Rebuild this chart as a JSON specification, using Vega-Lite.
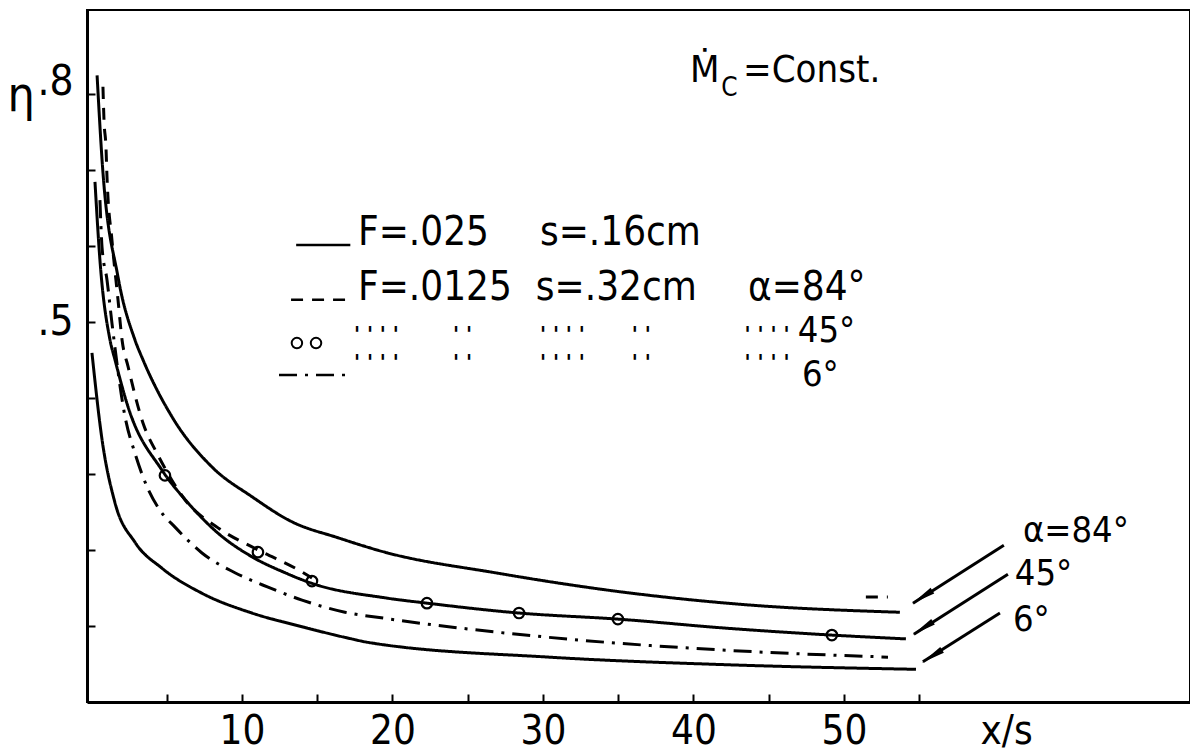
{
  "$schema": "https://vega.github.io/schema/vega-lite/v6.json",
  "width": 1103,
  "height": 692,
  "autosize": {"type": "none"},
  "padding": {"left": 87, "top": 10, "right": 0, "bottom": 49},
  "background": "white",
  "config": {
    "view": {"stroke": "black", "strokeWidth": 2},
    "font": "DejaVu Sans Condensed, DejaVu Sans, sans-serif",
    "axis": {
      "grid": false,
      "domainColor": "black",
      "domainWidth": 3,
      "tickColor": "black",
      "tickWidth": 2,
      "labelColor": "black",
      "titleColor": "black",
      "titleFontWeight": "normal",
      "labelFont": "DejaVu Sans Condensed, DejaVu Sans, sans-serif",
      "titleFont": "DejaVu Sans Condensed, DejaVu Sans, sans-serif"
    }
  },
  "datasets": {
    "curves": [
      {"series": "F=.025, α=84°", "part": "a", "x": 0.37, "eta": 0.824},
      {"series": "F=.025, α=84°", "part": "a", "x": 0.70, "eta": 0.713},
      {"series": "F=.025, α=84°", "part": "a", "x": 1.76, "eta": 0.559},
      {"series": "F=.025, α=84°", "part": "a", "x": 2.89, "eta": 0.476},
      {"series": "F=.025, α=84°", "part": "a", "x": 3.42, "eta": 0.450},
      {"series": "F=.025, α=84°", "part": "a", "x": 5.35, "eta": 0.375},
      {"series": "F=.025, α=84°", "part": "a", "x": 8.01, "eta": 0.309},
      {"series": "F=.025, α=84°", "part": "a", "x": 10.66, "eta": 0.270},
      {"series": "F=.025, α=84°", "part": "a", "x": 13.32, "eta": 0.237},
      {"series": "F=.025, α=84°", "part": "a", "x": 16.38, "eta": 0.216},
      {"series": "F=.025, α=84°", "part": "a", "x": 19.50, "eta": 0.197},
      {"series": "F=.025, α=84°", "part": "a", "x": 26.81, "eta": 0.170},
      {"series": "F=.025, α=84°", "part": "a", "x": 35.12, "eta": 0.145},
      {"series": "F=.025, α=84°", "part": "a", "x": 43.42, "eta": 0.128},
      {"series": "F=.025, α=84°", "part": "a", "x": 53.72, "eta": 0.118},

      {"series": "F=.025, α=45°", "part": "a", "x": 0.23, "eta": 0.684},
      {"series": "F=.025, α=45°", "part": "a", "x": 0.56, "eta": 0.581},
      {"series": "F=.025, α=45°", "part": "a", "x": 1.23, "eta": 0.476},
      {"series": "F=.025, α=45°", "part": "a", "x": 1.56, "eta": 0.450},
      {"series": "F=.025, α=45°", "part": "a", "x": 2.43, "eta": 0.388},
      {"series": "F=.025, α=45°", "part": "a", "x": 4.68, "eta": 0.305},
      {"series": "F=.025, α=45°", "part": "a", "x": 6.41, "eta": 0.262},
      {"series": "F=.025, α=45°", "part": "a", "x": 8.41, "eta": 0.222},
      {"series": "F=.025, α=45°", "part": "a", "x": 10.66, "eta": 0.191},
      {"series": "F=.025, α=45°", "part": "a", "x": 12.86, "eta": 0.170},
      {"series": "F=.025, α=45°", "part": "a", "x": 14.65, "eta": 0.156},
      {"series": "F=.025, α=45°", "part": "a", "x": 19.50, "eta": 0.137},
      {"series": "F=.025, α=45°", "part": "a", "x": 22.29, "eta": 0.130},
      {"series": "F=.025, α=45°", "part": "a", "x": 28.41, "eta": 0.117},
      {"series": "F=.025, α=45°", "part": "a", "x": 34.98, "eta": 0.109},
      {"series": "F=.025, α=45°", "part": "a", "x": 42.23, "eta": 0.097},
      {"series": "F=.025, α=45°", "part": "a", "x": 49.20, "eta": 0.088},
      {"series": "F=.025, α=45°", "part": "a", "x": 54.12, "eta": 0.083},

      {"series": "F=.025, α=6°", "part": "a", "x": 0.03, "eta": 0.459},
      {"series": "F=.025, α=6°", "part": "a", "x": 0.70, "eta": 0.345},
      {"series": "F=.025, α=6°", "part": "a", "x": 1.56, "eta": 0.262},
      {"series": "F=.025, α=6°", "part": "a", "x": 2.89, "eta": 0.210},
      {"series": "F=.025, α=6°", "part": "a", "x": 4.68, "eta": 0.176},
      {"series": "F=.025, α=6°", "part": "a", "x": 7.34, "eta": 0.143},
      {"series": "F=.025, α=6°", "part": "a", "x": 10.66, "eta": 0.117},
      {"series": "F=.025, α=6°", "part": "a", "x": 13.99, "eta": 0.099},
      {"series": "F=.025, α=6°", "part": "a", "x": 16.84, "eta": 0.085},
      {"series": "F=.025, α=6°", "part": "a", "x": 18.50, "eta": 0.078},
      {"series": "F=.025, α=6°", "part": "a", "x": 30.40, "eta": 0.059},
      {"series": "F=.025, α=6°", "part": "a", "x": 42.23, "eta": 0.049},
      {"series": "F=.025, α=6°", "part": "a", "x": 54.79, "eta": 0.043},

      {"series": "F=.0125, α=84°", "part": "a", "x": 0.76, "eta": 0.809},
      {"series": "F=.0125, α=84°", "part": "a", "x": 0.83, "eta": 0.765},
      {"series": "F=.0125, α=84°", "part": "a", "x": 0.96, "eta": 0.730},
      {"series": "F=.0125, α=84°", "part": "a", "x": 1.03, "eta": 0.690},
      {"series": "F=.0125, α=84°", "part": "a", "x": 1.36, "eta": 0.607},
      {"series": "F=.0125, α=84°", "part": "a", "x": 1.76, "eta": 0.529},
      {"series": "F=.0125, α=84°", "part": "a", "x": 2.03, "eta": 0.476},
      {"series": "F=.0125, α=84°", "part": "a", "x": 2.43, "eta": 0.441},
      {"series": "F=.0125, α=84°", "part": "a", "x": 3.42, "eta": 0.367},
      {"series": "F=.0125, α=84°", "part": "a", "x": 4.35, "eta": 0.327},
      {"series": "F=.0125, α=84°", "part": "a", "x": 4.95, "eta": 0.305},
      {"series": "F=.0125, α=84°", "part": "a", "x": 6.21, "eta": 0.266},
      {"series": "F=.0125, α=84°", "part": "a", "x": 8.41, "eta": 0.229},
      {"series": "F=.0125, α=84°", "part": "a", "x": 11.06, "eta": 0.200},
      {"series": "F=.0125, α=84°", "part": "a", "x": 13.72, "eta": 0.174},
      {"series": "F=.0125, α=84°", "part": "a", "x": 14.65, "eta": 0.163},
      {"series": "F=.0125, α=84°", "part": "b", "x": 51.46, "eta": 0.138},
      {"series": "F=.0125, α=84°", "part": "b", "x": 52.92, "eta": 0.138},

      {"series": "F=.0125, α=6°", "part": "a", "x": 0.56, "eta": 0.660},
      {"series": "F=.0125, α=6°", "part": "a", "x": 0.70, "eta": 0.598},
      {"series": "F=.0125, α=6°", "part": "a", "x": 1.03, "eta": 0.555},
      {"series": "F=.0125, α=6°", "part": "a", "x": 1.36, "eta": 0.498},
      {"series": "F=.0125, α=6°", "part": "a", "x": 2.23, "eta": 0.375},
      {"series": "F=.0125, α=6°", "part": "a", "x": 2.89, "eta": 0.327},
      {"series": "F=.0125, α=6°", "part": "a", "x": 3.69, "eta": 0.283},
      {"series": "F=.0125, α=6°", "part": "a", "x": 4.55, "eta": 0.252},
      {"series": "F=.0125, α=6°", "part": "a", "x": 5.55, "eta": 0.230},
      {"series": "F=.0125, α=6°", "part": "a", "x": 7.34, "eta": 0.196},
      {"series": "F=.0125, α=6°", "part": "a", "x": 9.53, "eta": 0.170},
      {"series": "F=.0125, α=6°", "part": "a", "x": 11.73, "eta": 0.151},
      {"series": "F=.0125, α=6°", "part": "a", "x": 13.99, "eta": 0.134},
      {"series": "F=.0125, α=6°", "part": "a", "x": 16.84, "eta": 0.118},
      {"series": "F=.0125, α=6°", "part": "a", "x": 19.50, "eta": 0.110},
      {"series": "F=.0125, α=6°", "part": "a", "x": 30.40, "eta": 0.085},
      {"series": "F=.0125, α=6°", "part": "a", "x": 42.23, "eta": 0.068},
      {"series": "F=.0125, α=6°", "part": "a", "x": 52.93, "eta": 0.059}
    ],
    "circles": [
      {"series": "F=.0125, α=45°", "x": 4.88, "eta": 0.298},
      {"series": "F=.0125, α=45°", "x": 11.06, "eta": 0.197},
      {"series": "F=.0125, α=45°", "x": 14.65, "eta": 0.159},
      {"series": "F=.0125, α=45°", "x": 22.29, "eta": 0.130},
      {"series": "F=.0125, α=45°", "x": 28.41, "eta": 0.117},
      {"series": "F=.0125, α=45°", "x": 34.98, "eta": 0.109},
      {"series": "F=.0125, α=45°", "x": 49.20, "eta": 0.088}
    ],
    "legendLines": [
      {"series": "F=.025, α=84°", "x": 13.60, "eta": 0.601},
      {"series": "F=.025, α=84°", "x": 17.20, "eta": 0.601},
      {"series": "F=.0125, α=84°", "x": 13.26, "eta": 0.529},
      {"series": "F=.0125, α=84°", "x": 16.85, "eta": 0.529},
      {"series": "F=.0125, α=6°", "x": 12.46, "eta": 0.430},
      {"series": "F=.0125, α=6°", "x": 16.85, "eta": 0.430}
    ],
    "legendCircles": [
      {"x": 13.65, "eta": 0.472},
      {"x": 14.92, "eta": 0.472}
    ],
    "bigText": [
      {"t": "F=.025", "x": 17.71, "eta": 0.601},
      {"t": "s=.16cm", "x": 29.80, "eta": 0.601},
      {"t": "F=.0125", "x": 17.71, "eta": 0.529},
      {"t": "s=.32cm", "x": 29.53, "eta": 0.529},
      {"t": "α=84°", "x": 43.62, "eta": 0.529}
    ],
    "sideText": [
      {"t": "45°", "x": 46.94, "eta": 0.474},
      {"t": "6°", "x": 47.21, "eta": 0.416},
      {"t": "α=84°", "x": 61.90, "eta": 0.211},
      {"t": "45°", "x": 61.36, "eta": 0.154},
      {"t": "6°", "x": 61.23, "eta": 0.094}
    ],
    "titleText": [
      {"t": "Ṁ", "x": 39.77, "eta": 0.815},
      {"t": "=Const.", "x": 43.30, "eta": 0.815}
    ],
    "subText": [
      {"t": "C", "x": 41.85, "eta": 0.797}
    ],
    "dittos": [
      {"t": "' '  ' '", "x": 17.44, "eta": 0.474},
      {"t": "' '", "x": 24.02, "eta": 0.474},
      {"t": "' ' ' '", "x": 29.80, "eta": 0.474},
      {"t": "' '", "x": 35.90, "eta": 0.474},
      {"t": "' ' ' '", "x": 43.40, "eta": 0.474},
      {"t": "' '  ' '", "x": 17.44, "eta": 0.436},
      {"t": "' '", "x": 24.02, "eta": 0.436},
      {"t": "' ' ' '", "x": 29.80, "eta": 0.436},
      {"t": "' '", "x": 35.90, "eta": 0.436},
      {"t": "' ' ' '", "x": 43.40, "eta": 0.436}
    ],
    "arrows": [
      {"x": 60.63, "eta": 0.206, "x2": 54.59, "eta2": 0.130},
      {"x": 60.90, "eta": 0.168, "x2": 54.65, "eta2": 0.089},
      {"x": 60.37, "eta": 0.117, "x2": 55.25, "eta2": 0.053}
    ],
    "arrowHeads": [
      {"x": 55.21, "eta": 0.138},
      {"x": 55.25, "eta": 0.097},
      {"x": 55.85, "eta": 0.060}
    ]
  },
  "layer": [
    {
      "data": {"name": "curves"},
      "mark": {"type": "line", "interpolate": "monotone", "color": "black", "strokeWidth": 3},
      "encoding": {
        "x": {
          "field": "x", "type": "quantitative",
          "scale": {"domain": [-0.3, 73], "nice": false, "zero": false},
          "axis": {
            "values": [5, 10, 15, 20, 25, 30, 35, 40, 45, 50, 55],
            "labelExpr": "datum.value % 10 == 0 && datum.value <= 50 ? datum.label : ''",
            "tickSize": -8,
            "labelPadding": 49,
            "labelBaseline": "alphabetic",
            "labelFontSize": 40,
            "labelFlush": false,
            "labelOverlap": false,
            "title": "x/s",
            "titleFontSize": 40,
            "titleAngle": 0,
            "titleX": 893,
            "titleY": 41,
            "titleAlign": "left",
            "titleBaseline": "alphabetic"
          }
        },
        "y": {
          "field": "eta", "type": "quantitative",
          "scale": {"domain": [0, 0.91], "nice": false, "zero": false},
          "axis": {
            "values": [0.1, 0.2, 0.3, 0.4, 0.5, 0.6, 0.7, 0.8],
            "labelExpr": "datum.value == 0.8 ? '.8' : (datum.value == 0.5 ? '.5' : '')",
            "tickSize": -8,
            "labelPadding": 22,
            "labelFontSize": 42,
            "labelBaseline": "middle",
            "labelOffset": {"condition": {"test": "datum.value > 0.7", "value": -12}, "value": 0},
            "title": "η",
            "titleFontSize": 48,
            "titleAngle": 0,
            "titleX": -80,
            "titleY": 100,
            "titleAlign": "left",
            "titleBaseline": "alphabetic"
          }
        },
        "detail": {"field": "part"},
        "strokeDash": {
          "field": "series", "type": "nominal",
          "scale": {
            "domain": ["F=.025, α=84°", "F=.025, α=45°", "F=.025, α=6°", "F=.0125, α=84°", "F=.0125, α=6°"],
            "range": [[1, 0], [1, 0], [1, 0], [12, 9], [18, 8, 3, 8]]
          },
          "legend": null
        }
      }
    },
    {
      "data": {"name": "legendLines"},
      "mark": {"type": "line", "color": "black", "strokeWidth": 2.5},
      "encoding": {
        "x": {"field": "x", "type": "quantitative"},
        "y": {"field": "eta", "type": "quantitative"},
        "strokeDash": {"field": "series", "type": "nominal", "legend": null}
      }
    },
    {
      "data": {"name": "circles"},
      "mark": {"type": "point", "filled": false, "color": "black", "strokeWidth": 2.2, "size": 110, "opacity": 1},
      "encoding": {
        "x": {"field": "x", "type": "quantitative"},
        "y": {"field": "eta", "type": "quantitative"}
      }
    },
    {
      "data": {"name": "legendCircles"},
      "mark": {"type": "point", "filled": false, "color": "black", "strokeWidth": 2, "size": 110, "opacity": 1},
      "encoding": {
        "x": {"field": "x", "type": "quantitative"},
        "y": {"field": "eta", "type": "quantitative"}
      }
    },
    {
      "data": {"name": "bigText"},
      "mark": {"type": "text", "align": "left", "baseline": "alphabetic", "fontSize": 40, "color": "black"},
      "encoding": {
        "x": {"field": "x", "type": "quantitative"},
        "y": {"field": "eta", "type": "quantitative"},
        "text": {"field": "t"}
      }
    },
    {
      "data": {"name": "sideText"},
      "mark": {"type": "text", "align": "left", "baseline": "alphabetic", "fontSize": 36, "color": "black"},
      "encoding": {
        "x": {"field": "x", "type": "quantitative"},
        "y": {"field": "eta", "type": "quantitative"},
        "text": {"field": "t"}
      }
    },
    {
      "data": {"name": "titleText"},
      "mark": {"type": "text", "align": "left", "baseline": "alphabetic", "fontSize": 38, "color": "black"},
      "encoding": {
        "x": {"field": "x", "type": "quantitative"},
        "y": {"field": "eta", "type": "quantitative"},
        "text": {"field": "t"}
      }
    },
    {
      "data": {"name": "subText"},
      "mark": {"type": "text", "align": "left", "baseline": "alphabetic", "fontSize": 26, "color": "black"},
      "encoding": {
        "x": {"field": "x", "type": "quantitative"},
        "y": {"field": "eta", "type": "quantitative"},
        "text": {"field": "t"}
      }
    },
    {
      "data": {"name": "dittos"},
      "mark": {"type": "text", "align": "left", "baseline": "alphabetic", "fontSize": 22, "fontWeight": "bold", "color": "black"},
      "encoding": {
        "x": {"field": "x", "type": "quantitative"},
        "y": {"field": "eta", "type": "quantitative"},
        "text": {"field": "t"}
      }
    },
    {
      "data": {"name": "arrows"},
      "mark": {"type": "rule", "color": "black", "strokeWidth": 3},
      "encoding": {
        "x": {"field": "x", "type": "quantitative"},
        "y": {"field": "eta", "type": "quantitative"},
        "x2": {"field": "x2"},
        "y2": {"field": "eta2"}
      }
    },
    {
      "data": {"name": "arrowHeads"},
      "mark": {"type": "point", "shape": "M0,-1L0.28,1L-0.28,1Z", "filled": true, "color": "black", "size": 576, "angle": 237.5, "opacity": 1},
      "encoding": {
        "x": {"field": "x", "type": "quantitative"},
        "y": {"field": "eta", "type": "quantitative"}
      }
    }
  ]
}
